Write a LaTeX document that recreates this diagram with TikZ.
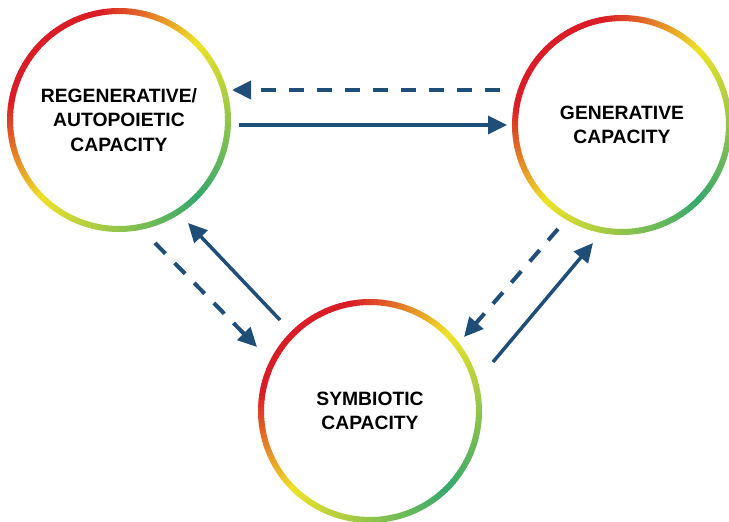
\documentclass[tikz,border=0pt]{standalone}
\usepackage{fontspec}
\setmainfont{Liberation Sans}
\usetikzlibrary{arrows.meta,calc}

\definecolor{ringred}{RGB}{218,28,38}
\definecolor{ringyel}{RGB}{238,226,40}
\definecolor{ringgrn}{RGB}{52,168,110}
\definecolor{arrblue}{RGB}{31,78,121}

\tikzset{
  capnode/.style={circle,minimum size=218pt,inner sep=0pt,align=center,
    font=\bfseries\fontsize{19.3}{24.5}\selectfont},
  flow/.style={arrblue,line width=3.5pt,-{Triangle[length=19pt,width=18pt]}},
  backflow/.style={flow,line width=4pt,dash pattern=on 15pt off 13pt}
}

% ring round a node, red upper left, green lower right
\newcommand{\gradring}[2]{%
  \foreach \a in {0,2,...,358}{%
    \pgfmathsetmacro{\dd}{min(abs(\a+1-225),360-abs(\a+1-225))}%
    \pgfmathtruncatemacro{\tone}{max(0,min(100,(\dd-35)/55*100))}%
    \pgfmathtruncatemacro{\ttwo}{max(0,(\dd-90)/90*100)}%
    \colorlet{ryc}{ringyel!\tone!ringred}%
    \colorlet{segc}{ringgrn!\ttwo!ryc}%
    \draw[segc,line width=6pt] ($(#1)+(\a:#2)$) -- ($(#1)+(\a+2.4:#2)$);
  }}

\begin{document}
\begin{tikzpicture}[x=1pt,y=-1pt]
   \useasboundingbox (0,0) rectangle (729,522);
   % the three capacities
   \node[capnode] (reg) at (119,120) {REGENERATIVE/\\AUTOPOIETIC\\CAPACITY};
   \node[capnode] (gen) at (622,125) {GENERATIVE\\CAPACITY};
   \node[capnode] (sym) at (370,411) {SYMBIOTIC\\CAPACITY};
   \gradring{reg}{109}
   \gradring{gen}{107}
   \gradring{sym}{109}
   % top pair
   \draw[backflow] ($(gen)+(-122,-35)$) -- ($(reg)+(113,-30)$);
   \draw[flow] ($(reg)+(120,5)$) -- ($(gen)+(-115,0)$);
   % left pair
   \draw[backflow] ($(reg)+(36,123)$) -- ($(sym)+(-113,-64)$);
   \draw[flow] ($(sym)+(-90,-91)$) -- ($(reg)+(69,103)$);
   % right pair
   \draw[backflow] ($(gen)+(-64,104)$) -- ($(sym)+(94,-74)$);
   \draw[flow] ($(sym)+(123,-49)$) -- ($(gen)+(-29,118)$);
\end{tikzpicture}
\end{document}
